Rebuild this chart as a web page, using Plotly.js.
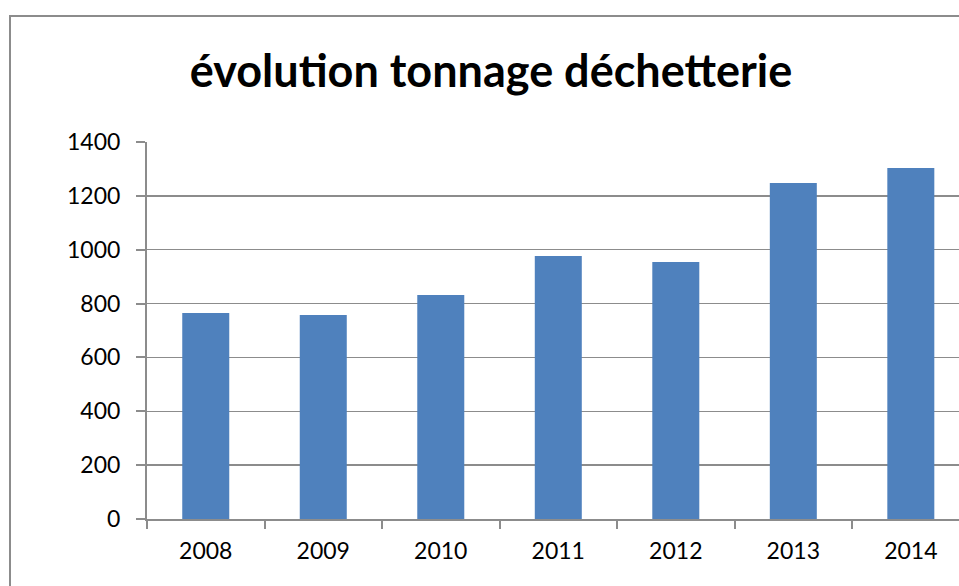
<!DOCTYPE html>
<html>
<head>
<meta charset="utf-8">
<script src="https://cdn.plot.ly/plotly-3.0.1.min.js"></script>
<style>
html,body{margin:0;padding:0;background:#fff;}
#wrap{position:relative;width:959px;height:586px;overflow:hidden;}
#frame{position:absolute;left:9px;top:15px;width:1000px;height:700px;border-left:2px solid #8c8c8c;border-top:2px solid #8c8c8c;pointer-events:none;}
#chart{position:absolute;left:0;top:0;width:959px;height:586px;}
</style>
</head>
<body>
<div id="wrap">
<div id="chart"></div>
<div id="frame"></div>
</div>
<script>
const years = ['2008','2009','2010','2011','2012','2013','2014'];
const tonnage = [765, 758, 832, 977, 954, 1248, 1303];
const yTicks = [0, 200, 400, 600, 800, 1000, 1200, 1400];

const trace = {
  type: 'bar',
  x: years,
  y: tonnage,
  marker: {color: '#4f81bd'},
  hoverinfo: 'x+y'
};

const layout = {
  width: 959,
  height: 586,
  margin: {l: 147, r: 0, t: 142, b: 67},
  paper_bgcolor: 'rgba(0,0,0,0)',
  plot_bgcolor: 'rgba(0,0,0,0)',
  bargap: 0.6,
  showlegend: false,
  title: {
    text: '<b>évolution tonnage déchetterie</b>',
    font: {family: 'Lato, "Open Sans", sans-serif', size: 45, color: '#000'},
    x: 0.512, xanchor: 'center',
    y: 0.878, yanchor: 'middle',
    xref: 'container', yref: 'container'
  },
  xaxis: {
    type: 'category',
    range: [-0.5, 6.41],
    tickson: 'boundaries',
    ticks: 'outside',
    ticklen: 8,
    tickwidth: 2,
    tickcolor: '#8c8c8c',
    showline: true,
    linecolor: '#8c8c8c',
    linewidth: 2,
    showgrid: false,
    tickfont: {family: 'Lato, sans-serif', size: 23, color: '#000'},
    ticklabelstandoff: 10,
    fixedrange: true
  },
  yaxis: {
    range: [0, 1400],
    tickvals: yTicks,
    ticktext: yTicks.map(String),
    ticks: 'outside',
    ticklen: 9,
    tickwidth: 2,
    tickcolor: '#8c8c8c',
    showline: true,
    linecolor: '#8c8c8c',
    linewidth: 2,
    showgrid: true,
    gridcolor: '#8c8c8c',
    gridwidth: 1.5,
    zeroline: false,
    tickfont: {family: 'Lato, sans-serif', size: 23, color: '#000'},
    ticklabelstandoff: 11,
    fixedrange: true
  }
};

Plotly.newPlot('chart', [trace], layout, {displayModeBar: false, staticPlot: true});
</script>
</body>
</html>
